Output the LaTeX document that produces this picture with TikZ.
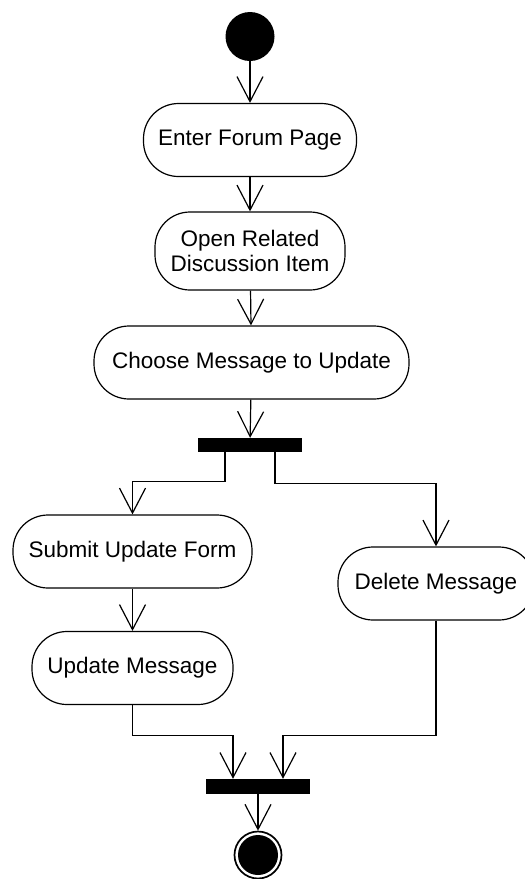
\documentclass[tikz,border=0pt]{standalone}
\usepackage{fontspec}
\setmainfont{Liberation Sans}
\usetikzlibrary{arrows.meta}

\begin{document}
\begin{tikzpicture}[
  x=1pt, y=-1pt, font=\fontsize{22.5}{25}\selectfont,
  act/.style={draw=black, line width=1.2pt, fill=white, rounded corners=35pt,
    align=center, minimum height=73pt, inner sep=0pt},
  bar/.style={fill=black, minimum width=104pt, minimum height=14pt, inner sep=0pt},
  startdot/.style={circle, fill=black, minimum size=49pt, inner sep=0pt},
  flow/.style={-{Straight Barb[length=25pt, width=26pt]}, line width=1.2pt}
]
  \useasboundingbox (0,0) rectangle (525,879);

  %% ============================================ the main line
  \node[startdot] (start) at (250,36.5) {};
  \node[act, minimum width=213pt] (enter) at (250,140) {Enter Forum Page};
  \node[act, minimum width=190pt, minimum height=78pt] (open) at (250,251)
    {Open Related\\Discussion Item};
  \node[act, minimum width=315pt] (choose) at (251.5,362.5)
    {Choose Message to Update};
  \node[bar] (fork) at (250,445) {};

  \draw[flow] (start) -- (enter);
  \draw[flow] (enter) -- (open);
  \draw[flow] (open) -- (choose);
  \draw[flow] (choose) -- (fork);

  %% ============================================ the two branches
  \node[act, minimum width=239pt] (submit) at (132.5,551.5) {Submit Update Form};
  \node[act, minimum width=201pt] (update) at (132.5,668) {Update Message};
  \node[act, minimum width=196pt] (delete) at (436,583.5) {Delete Message};

  \draw[flow] ([xshift=-25pt]fork.south) -- ++(0,29) -| (submit.north);
  \draw[flow] ([xshift=25pt]fork.south) -- ++(0,31) -| (delete.north);
  \draw[flow] (submit) -- (update);

  %% ============================================ the join and the end
  \node[bar, minimum height=15pt] (join) at (258,786.5) {};
  \node[circle, draw=black, line width=1.7pt, minimum size=47pt, inner sep=0pt]
    (final) at (258,855) {};
  \fill (final.center) circle (20pt);

  \draw[flow] (update.south) -- ++(0,30) -| ([xshift=-25pt]join.north);
  \draw[flow] (delete.south) -- ++(0,115) -| ([xshift=25pt]join.north);
  \draw[flow] (join) -- (final);

\end{tikzpicture}
\end{document}
